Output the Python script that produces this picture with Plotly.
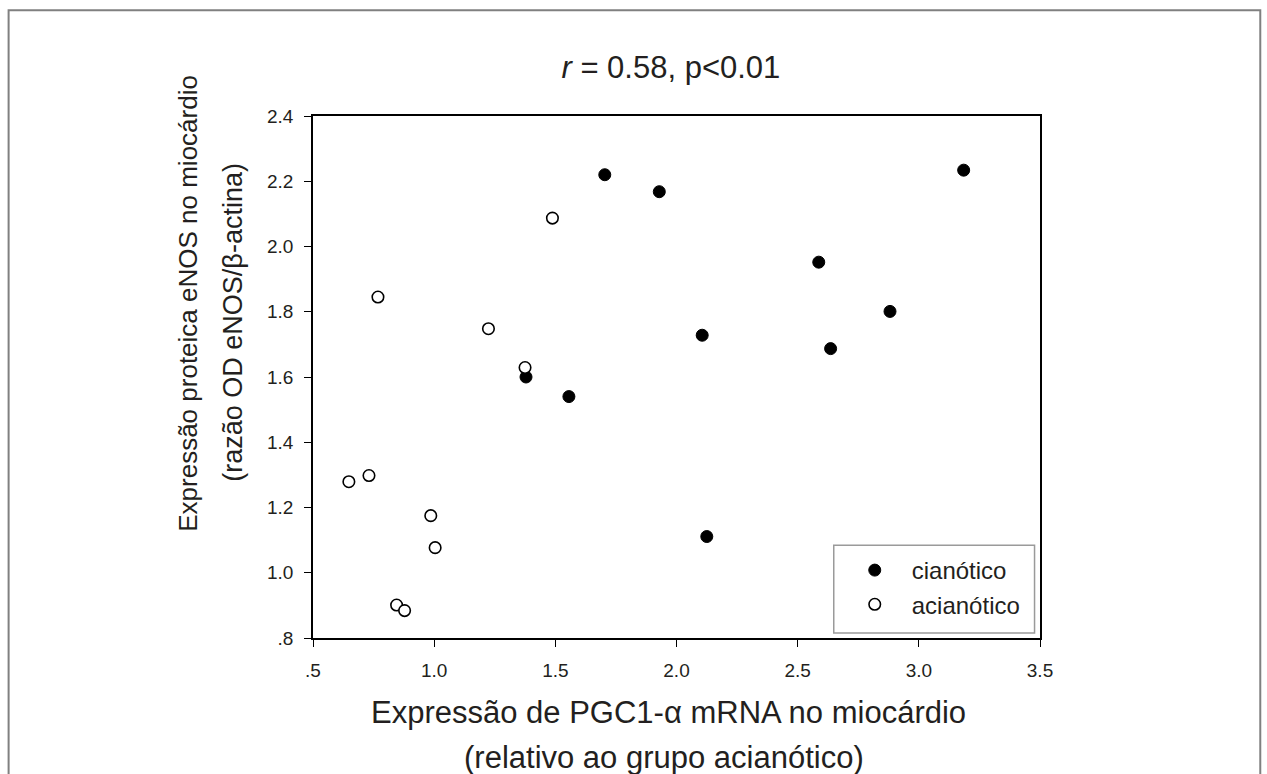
import plotly.graph_objects as go

# Data
cian_x = [1.704, 1.929, 2.106, 3.185, 2.587, 2.881, 2.636, 1.379, 1.556, 2.125]
cian_y = [2.220, 2.168, 1.728, 2.234, 1.952, 1.801, 1.687, 1.600, 1.540, 1.111]
acian_x = [1.488, 0.768, 1.224, 1.375, 0.648, 0.731, 0.986, 1.004, 0.845, 0.878]
acian_y = [2.087, 1.845, 1.748, 1.629, 1.279, 1.298, 1.175, 1.077, 0.901, 0.884]

x_tickvals = [0.5, 1.0, 1.5, 2.0, 2.5, 3.0, 3.5]
x_ticktext = [".5", "1.0", "1.5", "2.0", "2.5", "3.0", "3.5"]
y_tickvals = [0.8, 1.0, 1.2, 1.4, 1.6, 1.8, 2.0, 2.2, 2.4]
y_ticktext = [".8", "1.0", "1.2", "1.4", "1.6", "1.8", "2.0", "2.2", "2.4"]

series_names = ["cianótico", "acianótico"]
title_text = "<i>r</i> = 0.58, p&lt;0.01"
xtitle_lines = ["Expressão de PGC1-α mRNA no miocárdio", "(relativo ao grupo acianótico)"]
ytitle_lines = ["Expressão proteica eNOS no miocárdio", "(razão OD eNOS/β-actina)"]

FONT = "Liberation Sans, Arial, sans-serif"
TXT = "#231f20"

fig = go.Figure()
fig.add_trace(go.Scatter(
    x=cian_x, y=cian_y, mode="markers", name=series_names[0],
    marker=dict(symbol="circle", size=12, color="black", line=dict(color="black", width=1)),
))
fig.add_trace(go.Scatter(
    x=acian_x, y=acian_y, mode="markers", name=series_names[1],
    marker=dict(symbol="circle", size=11.5, color="white", line=dict(color="black", width=1.6)),
))

axis_common = dict(
    showgrid=False, zeroline=False, showline=True, linecolor="black", linewidth=1.6,
    mirror=True, ticks="outside", ticklen=7, tickwidth=1.3, tickcolor="black",
    ticklabelstandoff=7,
    tickfont=dict(family=FONT, size=19, color=TXT),
)
fig.update_xaxes(range=[0.5, 3.5], tickvals=x_tickvals, ticktext=x_ticktext, **axis_common)
fig.update_yaxes(range=[0.8, 2.4], tickvals=y_tickvals, ticktext=y_ticktext, **axis_common)

annotations = [
    dict(text=xtitle_lines[0], x=0.4896, y=-0.1433, xref="paper", yref="paper",
         xanchor="center", yanchor="middle", showarrow=False,
         font=dict(family=FONT, size=31, color=TXT)),
    dict(text=xtitle_lines[1], x=0.483, y=-0.2295, xref="paper", yref="paper",
         xanchor="center", yanchor="middle", showarrow=False,
         font=dict(family=FONT, size=31, color=TXT)),
    dict(text=ytitle_lines[0], x=-0.1713, y=0.6412, xref="paper", yref="paper",
         xanchor="center", yanchor="middle", showarrow=False, textangle=-90,
         font=dict(family=FONT, size=26, color=TXT)),
    dict(text=ytitle_lines[1], x=-0.1095, y=0.6048, xref="paper", yref="paper",
         xanchor="center", yanchor="middle", showarrow=False, textangle=-90,
         font=dict(family=FONT, size=27, color=TXT)),
]

fig.update_layout(
    width=1267, height=774,
    margin=dict(l=313, r=226.5, t=116, b=136.3, pad=0),
    paper_bgcolor="white", plot_bgcolor="white",
    title=dict(text=title_text, x=0.4923, xref="paper", xanchor="center",
               y=1 - 66.7 / 774, yref="container", yanchor="middle",
               font=dict(family=FONT, size=31, color=TXT)),
    showlegend=True,
    legend=dict(x=0.7218, y=0.1724, xanchor="left", yanchor="top",
                bgcolor="rgba(0,0,0,0)", borderwidth=0,
                font=dict(family=FONT, size=24, color=TXT),
                itemwidth=64, tracegroupgap=0),
    annotations=annotations,
    shapes=[
        dict(type="rect", xref="paper", yref="paper",
             x0=-0.4187, x1=1.3030, y0=-0.5, y1=1.2025,
             line=dict(color="#808080", width=2), fillcolor="rgba(0,0,0,0)",
             layer="below"),
        dict(type="rect", xref="paper", yref="paper",
             x0=0.7163, x1=0.9925, y0=0.0096, y1=0.1776,
             line=dict(color="#9a9a9a", width=1.5), fillcolor="white",
             layer="above"),
    ],
)

fig.write_html("out.html", config={"displayModeBar": False},
               post_script="document.body.style.margin='0';document.body.style.overflow='hidden';")
